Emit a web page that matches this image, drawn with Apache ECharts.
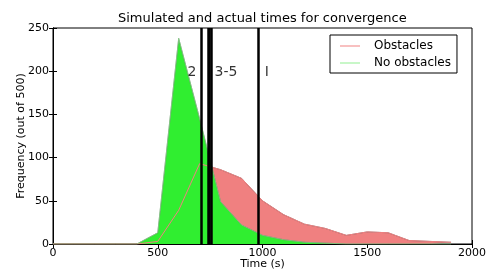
<!DOCTYPE html>
<html>
<head>
<meta charset="utf-8">
<script src="https://cdn.jsdelivr.net/npm/echarts@6/dist/echarts.min.js"></script>
<style>
  html, body { margin: 0; padding: 0; background: #fff; }
  #chart { width: 489px; height: 276px; }
</style>
</head>
<body>
<div id="chart"></div>
<script>
// histogram bins (s)
const times = [0, 100, 200, 300, 400, 500, 600, 700, 800, 900, 1000, 1100, 1200, 1300, 1400, 1500, 1600, 1700, 1800, 1900];
const obstacles = [0, 0, 0, 0, 0, 3, 39, 93, 86, 76, 50, 34, 23, 18, 10, 14, 13, 4, 3, 2];
const noObstacles = [0, 0, 0, 0, 0, 13, 238, 145, 49, 22, 10, 5, 2, 1, 0, 0, 0, 0, 0, 0];

// actual convergence times (vertical lines) and their labels
const actualTimes = [710, 739, 746, 753, 980];
const markerLabels = ['2', '3-5', 'I'];
const markerX = [663, 826, 1021];
const markerY = [199, 199, 199];

const font = 'DejaVu Sans';

function pairs(ys) {
  return times.map(function (t, i) { return [t, ys[i]]; });
}

const chart = echarts.init(document.getElementById('chart'));

const option = {
  animation: false,
  title: {
    text: 'Simulated and actual times for convergence',
    left: 113,
    top: 7,
    textStyle: { fontFamily: font, fontSize: 13, fontWeight: 'normal', color: '#000' }
  },
  legend: {
    data: ['Obstacles', 'No obstacles'],
    orient: 'vertical',
    left: 330,
    top: 35,
    width: 135,
    padding: [5, 6, 4, 10],
    itemGap: 5,
    itemWidth: 20,
    itemHeight: 1,
    icon: 'rect',
    borderColor: '#000',
    borderWidth: 1,
    borderRadius: 0,
    textStyle: { fontFamily: font, fontSize: 12, color: '#000', padding: [0, 0, 0, 9] }
  },
  grid: {
    left: 53, right: 17, top: 28, bottom: 32,
    containLabel: false,
    outerBoundsMode: 'none',
    show: true, borderColor: '#000', borderWidth: 1
  },
  xAxis: [{
    type: 'value', min: 0, max: 2000, interval: 500,
    name: 'Time (s)', nameLocation: 'middle', nameGap: 15, nameMoveOverlap: false,
    nameTextStyle: { fontFamily: font, fontSize: 11, color: '#000' },
    axisLine: { show: true, onZero: false, lineStyle: { color: '#000' } },
    axisTick: { show: true, inside: true, length: 4, lineStyle: { color: '#000' } },
    axisLabel: {
      fontFamily: font, fontSize: 11, color: '#000', margin: 4,
      formatter: function (v) { return String(v); }
    },
    splitLine: { show: false }
  }, {
    type: 'value', min: 0, max: 2000, interval: 500, position: 'top',
    axisLine: { show: true, lineStyle: { color: '#000' } },
    axisTick: { show: true, inside: true, length: 4, lineStyle: { color: '#000' } },
    axisLabel: { show: false },
    splitLine: { show: false }
  }],
  yAxis: [{
    type: 'value', min: 0, max: 250, interval: 50,
    name: 'Frequency (out of 500)', nameLocation: 'middle', nameGap: 26, nameMoveOverlap: false,
    nameTextStyle: { fontFamily: font, fontSize: 11, color: '#000' },
    axisLine: { show: true, lineStyle: { color: '#000' } },
    axisTick: { show: true, inside: true, length: 4, lineStyle: { color: '#000' } },
    axisLabel: { fontFamily: font, fontSize: 11, color: '#000', margin: 4 },
    splitLine: { show: false }
  }, {
    type: 'value', min: 0, max: 250, interval: 50, position: 'right',
    axisLine: { show: true, lineStyle: { color: '#000' } },
    axisTick: { show: true, inside: true, length: 4, lineStyle: { color: '#000' } },
    axisLabel: { show: false },
    splitLine: { show: false }
  }],
  series: [
    {
      name: 'obstacles fill',
      type: 'line',
      data: pairs(obstacles),
      showSymbol: false,
      lineStyle: { color: 'rgba(90,90,90,0.7)', width: 1 },
      areaStyle: { color: '#f08080', opacity: 1 },
      z: 2
    },
    {
      name: 'no obstacles fill',
      type: 'line',
      data: pairs(noObstacles),
      showSymbol: false,
      lineStyle: { color: 'rgba(90,90,90,0.7)', width: 1 },
      areaStyle: { color: '#30ee30', opacity: 1 },
      z: 3
    },
    {
      name: 'Obstacles',
      type: 'line',
      data: pairs(obstacles),
      showSymbol: false,
      itemStyle: { color: '#f08080' },
      lineStyle: { color: '#f08080', width: 1 },
      z: 4
    },
    {
      name: 'No obstacles',
      type: 'line',
      data: pairs(noObstacles),
      showSymbol: false,
      itemStyle: { color: '#90ee90' },
      lineStyle: { color: '#90ee90', width: 1, opacity: 0.6 },
      z: 4,
      markLine: {
        silent: true,
        symbol: 'none',
        label: { show: false },
        lineStyle: { color: '#000', width: 2.5, type: 'solid' },
        data: actualTimes.map(function (t) { return { xAxis: t }; })
      }
    },
    {
      name: 'labels',
      type: 'scatter',
      symbolSize: 0,
      data: markerLabels.map(function (s, i) { return { value: [markerX[i], markerY[i]], name: s }; }),
      label: {
        show: true, position: 'inside', formatter: '{b}',
        fontFamily: font, fontSize: 14, color: '#000'
      },
      z: 6
    }
  ]
};

chart.setOption(option);
</script>
</body>
</html>
